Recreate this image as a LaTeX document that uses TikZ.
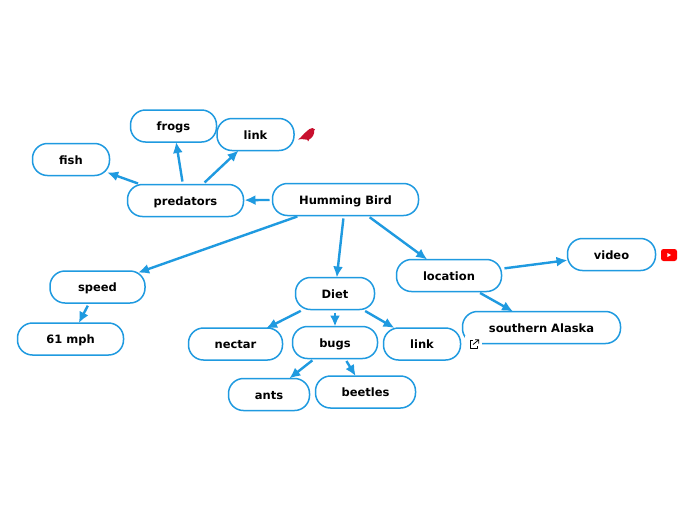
\documentclass[tikz,border=0pt]{standalone}
\usepackage{fontspec}
\setmainfont{DejaVu Sans}
\usetikzlibrary{arrows.meta}
\definecolor{mapblue}{HTML}{1F9AE0}
\definecolor{birdred}{HTML}{C8102E}
\tikzset{
  topic/.style={draw=mapblue,line width=1.5pt,fill=white,rounded corners=15pt,inner sep=0pt,outer sep=0pt,
    font=\bfseries\fontsize{11.5}{13}\selectfont,text=black,text height=11.5pt,text depth=2pt},
  link/.style={draw=mapblue,line width=2.4pt,shorten <=3pt,-{Latex[length=11pt,width=10pt]}},
  icon/.style={inner sep=0pt,outer sep=0pt,minimum size=1pt}
}
\newcommand{\topicnode}[6]{\node[topic,minimum width={#3pt-1pt},minimum height={#4pt-1pt}] (#1) at (#5pt,-#6pt) {#2};}
\begin{document}
\begin{tikzpicture}[x=1pt,y=1pt]
\useasboundingbox (0,0) rectangle (696,-520);
\fill[white] (0,0) rectangle (696,-520);
\topicnode{hb}{Humming Bird}{147}{33}{345.5}{199.5}
\topicnode{pred}{predators}{117}{33}{185.5}{200.5}
\topicnode{frogs}{frogs}{87}{33}{173.5}{126}
\topicnode{linka}{link}{78}{33}{255.5}{134.5}
\topicnode{fish}{fish}{78}{33}{71}{159.5}
\topicnode{speed}{speed}{96}{33}{97.5}{287}
\topicnode{mph}{61 mph}{107}{33}{70.5}{339}
\topicnode{diet}{Diet}{80}{33}{335}{293.5}
\topicnode{nectar}{nectar}{95}{33}{235.5}{344}
\topicnode{bugs}{bugs}{86}{33}{335}{342.5}
\topicnode{linkb}{link}{78}{33}{422}{344}
\topicnode{ants}{ants}{82}{33}{269}{394.5}
\topicnode{beetles}{beetles}{101}{33}{365.5}{392}
\topicnode{loc}{location}{106}{33}{449}{275.5}
\topicnode{video}{video}{89}{33}{611.5}{254.5}
\topicnode{alaska}{southern Alaska}{159}{33}{541.5}{327.5}
\foreach \a/\b/\g in {hb/pred/1,hb/speed/-5,hb/diet/0,hb/loc/0,pred/fish/-2.5,pred/frogs/0,pred/linka/0,speed/mph/0,diet/nectar/-1,diet/bugs/0,diet/linkb/0,bugs/ants/0,bugs/beetles/0,loc/video/0,loc/alaska/0}
  \draw[link,shorten >=\g pt] (\a) -- (\b);
% bird icon
\node[icon] (bird) at (306.5,-134) {};
\fill[birdred] (298,-139.5) .. controls (301,-138) and (303,-134) .. (306.5,-131.5)
  .. controls (308.5,-130) and (310,-127.8) .. (312.5,-128) -- (315,-129.5) -- (314.2,-130.5)
  .. controls (314.5,-134) and (312.5,-138) .. (309,-139.5) -- (308.6,-141) -- (307.6,-141) -- (307.6,-139.8)
  .. controls (305,-139.8) and (303,-138.5) .. (298,-139.5) -- cycle;
% youtube icon
\node[icon,fill=red,rounded corners=2.5pt,minimum width=16pt,minimum height=12pt] (yt) at (669,-255) {};
\fill[white] (yt.center)++(-1.6,-2) -- ++(0,4) -- ++(3.6,-2) -- cycle;
% external link icon
\node[icon,fill=white,minimum width=17pt,minimum height=18pt] (ext) at (473.5,-345) {};
\draw[black,line width=.8pt,line join=round] (472.5,-340.5) -- (470,-340.5) -- (470,-348.5) -- (477.5,-348.5) -- (477.5,-345.5);
\draw[black,line width=.8pt] (473,-344.5) -- (478.8,-339.8) (475,-339.8) -- (478.8,-339.8) -- (478.8,-343.5);
\end{tikzpicture}
\end{document}
